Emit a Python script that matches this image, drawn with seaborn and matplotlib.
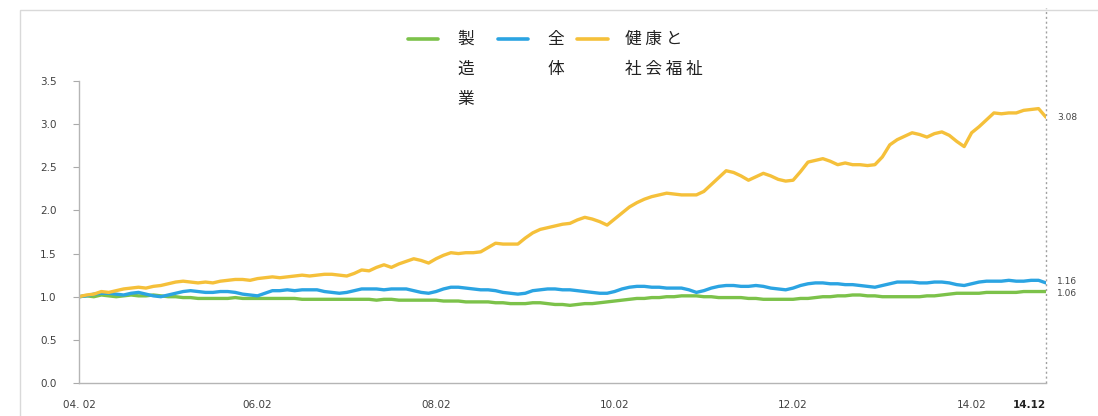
import numpy as np
import pandas as pd
import matplotlib
matplotlib.use("Agg")
import matplotlib.pyplot as plt
from matplotlib.patches import Rectangle
from matplotlib.lines import Line2D
import seaborn as sns

# ---- data (monthly index, 2004.02 .. 2014.12) ----
series_names = ["製造業", "全体", "健康と社会福祉"]
legend_labels = ["製\n造\n業", "全\n体", "健 康 と\n社 会 福 祉"]

manufacturing = [
    1.00, 1.01, 1.00, 1.02, 1.01, 1.00, 1.01, 1.02, 1.01, 1.01, 1.02, 1.01,
    1.00, 1.00, 0.99, 0.99, 0.98, 0.98, 0.98, 0.98, 0.98, 0.99, 0.98, 0.98,
    0.98, 0.98, 0.98, 0.98, 0.98, 0.98, 0.97, 0.97, 0.97, 0.97, 0.97, 0.97,
    0.97, 0.97, 0.97, 0.97, 0.96, 0.97, 0.97, 0.96, 0.96, 0.96, 0.96, 0.96,
    0.96, 0.95, 0.95, 0.95, 0.94, 0.94, 0.94, 0.94, 0.93, 0.93, 0.92, 0.92,
    0.92, 0.93, 0.93, 0.92, 0.91, 0.91, 0.90, 0.91, 0.92, 0.92, 0.93, 0.94,
    0.95, 0.96, 0.97, 0.98, 0.98, 0.99, 0.99, 1.00, 1.00, 1.01, 1.01, 1.01,
    1.00, 1.00, 0.99, 0.99, 0.99, 0.99, 0.98, 0.98, 0.97, 0.97, 0.97, 0.97,
    0.97, 0.98, 0.98, 0.99, 1.00, 1.00, 1.01, 1.01, 1.02, 1.02, 1.01, 1.01,
    1.00, 1.00, 1.00, 1.00, 1.00, 1.00, 1.01, 1.01, 1.02, 1.03, 1.04, 1.04,
    1.04, 1.04, 1.05, 1.05, 1.05, 1.05, 1.05, 1.06, 1.06, 1.06, 1.06,
]

total = [
    1.00, 1.01, 1.03, 1.04, 1.04, 1.03, 1.02, 1.04, 1.05, 1.03, 1.01, 1.00,
    1.02, 1.04, 1.06, 1.07, 1.06, 1.05, 1.05, 1.06, 1.06, 1.05, 1.03, 1.02,
    1.01, 1.04, 1.07, 1.07, 1.08, 1.07, 1.08, 1.08, 1.08, 1.06, 1.05, 1.04,
    1.05, 1.07, 1.09, 1.09, 1.09, 1.08, 1.09, 1.09, 1.09, 1.07, 1.05, 1.04,
    1.06, 1.09, 1.11, 1.11, 1.10, 1.09, 1.08, 1.08, 1.07, 1.05, 1.04, 1.03,
    1.04, 1.07, 1.08, 1.09, 1.09, 1.08, 1.08, 1.07, 1.06, 1.05, 1.04, 1.04,
    1.06, 1.09, 1.11, 1.12, 1.12, 1.11, 1.11, 1.10, 1.10, 1.10, 1.08, 1.05,
    1.07, 1.10, 1.12, 1.13, 1.13, 1.12, 1.12, 1.13, 1.12, 1.10, 1.09, 1.08,
    1.10, 1.13, 1.15, 1.16, 1.16, 1.15, 1.15, 1.14, 1.14, 1.13, 1.12, 1.11,
    1.13, 1.15, 1.17, 1.17, 1.17, 1.16, 1.16, 1.17, 1.17, 1.16, 1.14, 1.13,
    1.15, 1.17, 1.18, 1.18, 1.18, 1.19, 1.18, 1.18, 1.19, 1.19, 1.16,
]

health_welfare = [
    1.00, 1.02, 1.03, 1.06, 1.05, 1.07, 1.09, 1.10, 1.11, 1.10, 1.12, 1.13,
    1.15, 1.17, 1.18, 1.17, 1.16, 1.17, 1.16, 1.18, 1.19, 1.20, 1.20, 1.19,
    1.21, 1.22, 1.23, 1.22, 1.23, 1.24, 1.25, 1.24, 1.25, 1.26, 1.26, 1.25,
    1.24, 1.27, 1.31, 1.30, 1.34, 1.37, 1.34, 1.38, 1.41, 1.44, 1.42, 1.39,
    1.44, 1.48, 1.51, 1.50, 1.51, 1.51, 1.52, 1.57, 1.62, 1.61, 1.61, 1.61,
    1.68, 1.74, 1.78, 1.80, 1.82, 1.84, 1.85, 1.89, 1.92, 1.90, 1.87, 1.83,
    1.90, 1.97, 2.04, 2.09, 2.13, 2.16, 2.18, 2.20, 2.19, 2.18, 2.18, 2.18,
    2.22, 2.30, 2.38, 2.46, 2.44, 2.40, 2.35, 2.39, 2.43, 2.40, 2.36, 2.34,
    2.35, 2.45, 2.56, 2.58, 2.60, 2.57, 2.53, 2.55, 2.53, 2.53, 2.52, 2.53,
    2.62, 2.76, 2.82, 2.86, 2.90, 2.88, 2.85, 2.89, 2.91, 2.87, 2.80, 2.74,
    2.90, 2.97, 3.05, 3.13, 3.12, 3.13, 3.13, 3.16, 3.17, 3.18, 3.08,
]

x_tick_pos = [0, 24, 48, 72, 96, 120, 130]
x_tick_labels = ["04. 02", "06.02", "08.02", "10.02", "12.02", "14.02", "14.12"]
y_ticks = [0.0, 0.5, 1.0, 1.5, 2.0, 2.5, 3.0, 3.5]
end_labels = ["1.06", "1.16", "3.08"]

colors = ["#7cc24a", "#2ba4e2", "#f5c03a"]

# ---- build long-form table ----
n = len(total)
df = pd.concat([
    pd.DataFrame({"t": np.arange(n), "value": vals, "series": name})
    for name, vals in zip(series_names, [manufacturing, total, health_welfare])
])

sns.set_theme(style="white")
plt.rcParams["font.family"] = ["Noto Sans CJK JP", "DejaVu Sans"]

fig = plt.figure(figsize=(10.98, 4.16), dpi=100)
W, H = 1098, 416
ax = fig.add_axes([79 / W, (H - 383) / H, (1046 - 79) / W, (383 - 81) / H])

# faint outer frame
fig.patches.append(Rectangle((20 / W, -0.05), 1.2, (H - 10) / H + 0.05,
                             transform=fig.transFigure, fill=False,
                             edgecolor="#d9d9d9", linewidth=1.0))

sns.lineplot(data=df, x="t", y="value", hue="series", palette=colors,
             linewidth=2.4, ax=ax, legend=False)

ax.set_xlim(0, 130)
ax.set_ylim(0, 3.5)
ax.set_xlabel("")
ax.set_ylabel("")

ax.set_yticks(y_ticks)
ax.set_yticklabels([f"{v:.1f}" for v in y_ticks], fontsize=7.5, color="#404040",
                   family="DejaVu Sans")
ax.set_xticks(x_tick_pos)
ax.set_xticklabels(x_tick_labels, fontsize=7.5, color="#404040", family="DejaVu Sans")
xl = ax.get_xticklabels()
xl[-1].set_fontweight("bold")
xl[-1].set_color("#222222")
xl[-1].set_horizontalalignment("right")
ax.tick_params(axis="y", which="both", left=True, length=4, width=0.8,
               color="#aaaaaa", pad=12)
ax.tick_params(axis="x", which="both", bottom=False, pad=6)

for side in ["top", "right"]:
    ax.spines[side].set_visible(False)
for side in ["left", "bottom"]:
    ax.spines[side].set_color("#b5b5b5")
    ax.spines[side].set_linewidth(1.0)

# dotted vertical at last month, reaching up to the frame
ax.vlines(130, 0, 4.35, color="#a0a0a0", linestyle=(0, (1.5, 2.0)),
          linewidth=1.0, clip_on=False)

# end-value labels
ends = [manufacturing[-1], total[-1], health_welfare[-1]]
offs = [-0.02, 0.02, 0.0]
for v, lab, o in zip(ends, end_labels, offs):
    ax.text(131.5, v + o, lab, fontsize=6.5, color="#444444", va="center",
            ha="left", family="DejaVu Sans", clip_on=False)

# legend: handle aligned with the first text line, labels stacked below
handle_x = [(408, 438), (498, 528), (577, 608)]
text_x = [457, 547, 625]
handle_y = 39
for (x0, x1), tx, lab, c in zip(handle_x, text_x, legend_labels, colors):
    fig.add_artist(Line2D([x0 / W, x1 / W], [(H - handle_y) / H] * 2,
                          transform=fig.transFigure, color=c, linewidth=2.6))
    fig.text(tx / W, (H - 31) / H, lab, fontsize=12, color="#222222",
             ha="left", va="top", linespacing=2.0)

fig.savefig("out.png", dpi=100)
